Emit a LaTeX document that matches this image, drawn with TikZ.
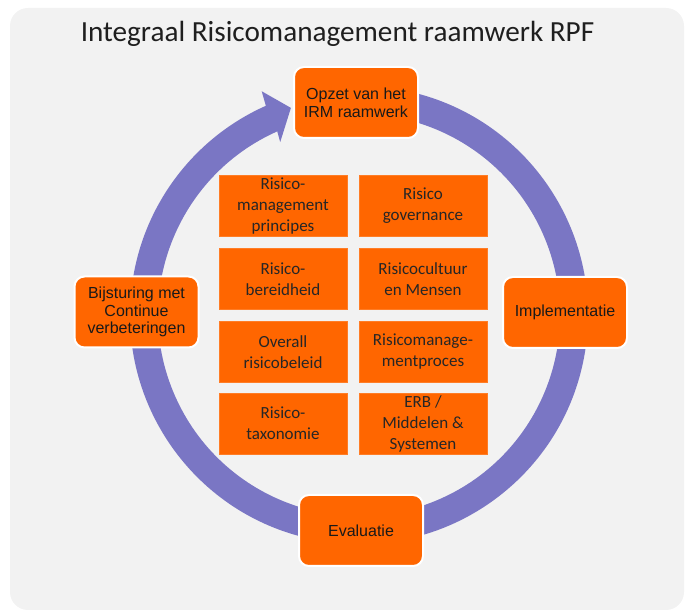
\documentclass[tikz,border=0pt]{standalone}
\usepackage{fontspec}
\setmainfont{Liberation Sans}
\newfontfamily\calibri{Carlito}
\usetikzlibrary{calc}

\definecolor{panelgray}{RGB}{242,242,242}
\definecolor{irmorange}{RGB}{255,102,0}
\definecolor{cyclepurple}{RGB}{122,118,196}
\definecolor{boxtext}{RGB}{25,25,25}
\definecolor{celltext}{RGB}{38,38,38}

\tikzset{
  phasebox/.style={rounded corners=10pt, fill=irmorange, draw=white, line width=2pt,
    minimum width=124pt, minimum height=71pt, align=center, text=boxtext,
    inner sep=2pt, font=\fontsize{16}{17.8}\selectfont},
  cellbox/.style={fill=irmorange, draw=irmorange!85!white, line width=0.6pt,
    minimum width=128pt, minimum height=61pt, align=center, text=celltext,
    inner sep=1pt, font=\calibri\fontsize{17}{21}\selectfont},
  titletext/.style={font=\calibri\fontsize{29.2}{33}\selectfont, text=black!88}
}

\begin{document}
\begin{tikzpicture}[x=1pt,y=1pt]
  \useasboundingbox (0,0) rectangle (689,613);

  % panel
  \fill[panelgray, rounded corners=18pt] (10,3) rectangle (684,605);

  % title
  \node[titletext, anchor=base] (title) at (337.5,571) {Integraal Risicomanagement raamwerk RPF};

  % cycle band with arrow head
  \coordinate (C) at (359,298);
  \fill[cyclepurple]
    ($(C)+(80:229pt)$) arc[start angle=80, end angle=-246, radius=229pt]
    -- ($(C)+(-246.5:244pt)$)
    -- ($(C)+(-251.8:218pt)$)
    -- ($(C)+(-245.5:190pt)$)
    -- ($(C)+(-246:201pt)$)
    arc[start angle=-246, end angle=80, radius=201pt] -- cycle;

  % phases of the cycle
  \node[phasebox] (opzet) at (356,510.5) {Opzet van het\\IRM raamwerk};
  \node[phasebox] (impl)  at (565,300.5) {Implementatie};
  \node[phasebox] (eval)  at (361,82.5)  {Evaluatie};
  \node[phasebox] (bijst) at (136.5,301) {Bijsturing met\\Continue\\verbeteringen};

  % building blocks of the framework
  \node[cellbox] (c11) at (283,407) {Risico-\\management\\principes};
  \node[cellbox] (c12) at (423,407) {Risico\\governance};
  \node[cellbox] (c21) at (283,334) {Risico-\\bereidheid};
  \node[cellbox] (c22) at (423,334) {Risicocultuur\\en Mensen};
  \node[cellbox] (c31) at (283,261) {Overall\\risicobeleid};
  \node[cellbox] (c32) at (423,261) {Risicomanage-\\mentproces};
  \node[cellbox] (c41) at (283,189.5) {Risico-\\taxonomie};
  \node[cellbox] (c42) at (423,189.5) {ERB /\\Middelen \&\\Systemen};
\end{tikzpicture}
\end{document}
